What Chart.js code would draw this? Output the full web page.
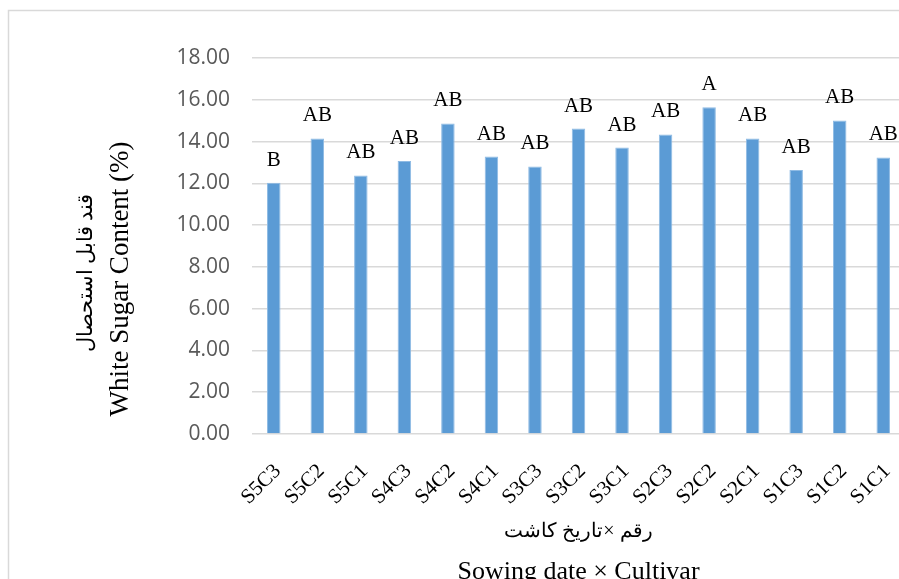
<!DOCTYPE html>
<html>
<head>
<meta charset="utf-8">
<script src="https://cdn.jsdelivr.net/npm/chart.js@4.4.1/dist/chart.umd.min.js"></script>
<style>
  html, body { margin: 0; padding: 0; overflow: hidden; background: #fff; }
  canvas { display: block; }
</style>
</head>
<body>
<canvas id="sugarChart" width="910" height="590"></canvas>
<script>
// data
const categories = ['S5C3', 'S5C2', 'S5C1', 'S4C3', 'S4C2', 'S4C1', 'S3C3', 'S3C2',
                    'S3C1', 'S2C3', 'S2C2', 'S2C1', 'S1C3', 'S1C2', 'S1C1'];
const sugarValues = [12.03, 14.15, 12.38, 13.07, 14.87, 13.28, 12.81, 14.62,
                     13.71, 14.34, 15.64, 14.15, 12.64, 15.01, 13.24];
const groupLetters = ['B', 'AB', 'AB', 'AB', 'AB', 'AB', 'AB', 'AB',
                      'AB', 'AB', 'A', 'AB', 'AB', 'AB', 'AB'];
const yTicks = [0, 2, 4, 6, 8, 10, 12, 14, 16, 18];
const yTitleLines = ['قند قابل استحصال', 'White Sugar Content (%)'];
const xTitleLines = ['رقم ×تاریخ کاشت', 'Sowing date × Cultivar'];

const serif = '"Liberation Serif", "Times New Roman", serif';

// frame, letters above bars and the two axis titles
const extras = {
  id: 'extras',
  beforeDraw(chart) {
    const c = chart.ctx;
    c.save();
    c.strokeStyle = '#d9d9d9';
    c.lineWidth = 1.5;
    c.strokeRect(8.5, 10.5, 1200, 1200);
    c.restore();
  },
  afterDatasetsDraw(chart) {
    const c = chart.ctx;
    const meta = chart.getDatasetMeta(0);
    c.save();
    c.fillStyle = '#000';
    c.font = '21px ' + serif;
    c.textAlign = 'center';
    c.textBaseline = 'alphabetic';
    meta.data.forEach((bar, i) => {
      c.fillText(groupLetters[i], bar.x, bar.y - 17);
    });
    c.restore();
  },
  afterDraw(chart) {
    const c = chart.ctx;
    const area = chart.chartArea;
    const midY = (area.top + area.bottom) / 2 + 33;
    const midX = (area.left + area.right) / 2;
    c.save();
    c.fillStyle = '#000';
    c.textAlign = 'center';
    c.textBaseline = 'middle';
    // y title
    c.save();
    c.translate(86, midY - 6);
    c.rotate(-Math.PI / 2);
    c.font = '21px ' + serif;
    c.fillText(yTitleLines[0], 0, 0);
    c.restore();
    c.save();
    c.translate(121, midY);
    c.rotate(-Math.PI / 2);
    c.font = '27px ' + serif;
    c.fillText(yTitleLines[1], 0, 0);
    c.restore();
    // x title
    c.textBaseline = 'alphabetic';
    c.font = '20px ' + serif;
    c.fillText(xTitleLines[0], midX, 537);
    c.font = '26px ' + serif;
    c.fillText(xTitleLines[1], midX, 579);
    c.restore();
  }
};

const ctx = document.getElementById('sugarChart').getContext('2d');
const sugarChart = new Chart(ctx, {
  type: 'bar',
  data: {
    labels: categories,
    datasets: [{
      data: sugarValues,
      backgroundColor: '#5b9bd5',
      borderColor: '#8fbbe4',
      borderWidth: 1,
      categoryPercentage: 1,
      barPercentage: 0.31
    }]
  },
  options: {
    responsive: false,
    animation: false,
    devicePixelRatio: 1,
    layout: { padding: { left: 0, top: 58, right: 5, bottom: 0 } },
    plugins: {
      legend: { display: false },
      tooltip: { enabled: false }
    },
    scales: {
      x: {
        grid: { display: false },
        border: { display: false },
        ticks: {
          minRotation: 45,
          maxRotation: 45,
          padding: 17,
          labelOffset: 4,
          color: '#000',
          font: { family: serif, size: 21 }
        },
        afterFit(scale) {
          scale.height = 156;
          scale.paddingLeft = 0;
          scale.paddingRight = 0;
        }
      },
      y: {
        min: 0,
        max: 18,
        grid: { color: '#d9d9d9', lineWidth: 1.5, drawTicks: false },
        border: { display: false },
        afterBuildTicks(scale) { scale.ticks = yTicks.map(v => ({ value: v })); },
        ticks: {
          padding: 22,
          color: '#595959',
          font: { family: '"Open Sans", sans-serif', size: 21 },
          callback: v => Number(v).toFixed(2)
        },
        afterFit(scale) { scale.width = 252; }
      }
    }
  },
  plugins: [extras]
});
</script>
</body>
</html>
